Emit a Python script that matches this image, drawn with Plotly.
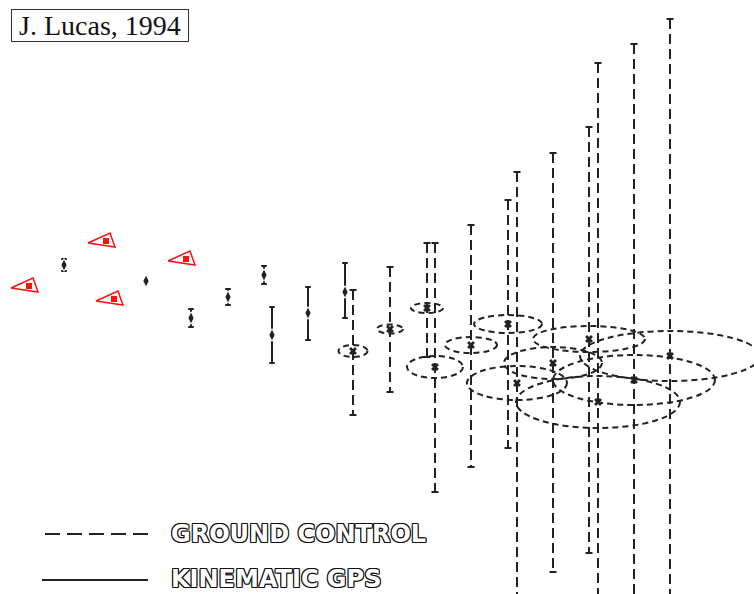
import plotly.graph_objects as go

# ---- data (figure units: horizontal position, vertical position from top) ----
# Kinematic GPS stations: centre and vertical error bar extent
gps_x = [64, 146, 191, 228, 264, 272, 308, 345]
gps_y = [265, 281, 318, 297, 275, 335, 313, 292]
gps_top = [259, 280, 309, 289, 266, 307, 287, 263]
gps_bottom = [271, 282, 327, 305, 284, 363, 340, 318]

# Ground-control stations: centre, vertical error extent and horizontal error ellipse
gc_x = [353, 390, 427, 435, 471, 508, 517, 553, 589, 598, 634, 670]
gc_y = [351, 329, 308, 367, 345, 324, 383, 363, 339, 402, 380, 356]
gc_top = [290, 267, 243, 243, 225, 200, 172, 153, 127, 63, 44, 19]
gc_bottom = [415, 392, 357, 492, 467, 448, 610, 572, 553, 610, 610, 610]
gc_semi_x = [14.5, 13, 16, 28, 26, 34, 50, 49, 56, 82, 81, 90]
gc_semi_y = [6, 4.5, 5, 11, 8, 9, 17, 16, 13, 26, 25, 25]

# Control points (red triangles)
cp_x = [29, 106, 186, 114]
cp_y = [286, 241, 259, 299]

legend_labels = ["GROUND CONTROL", "KINEMATIC GPS"]
credit = "J. Lucas, 1994"

INK = "#222222"
RED = "#ff1010"

fig = go.Figure()

# ground control dashed vertical error bars
lx, ly = [], []
for x, t, b in zip(gc_x, gc_top, gc_bottom):
    lx += [x, x, None]
    ly += [t, b, None]
fig.add_trace(go.Scatter(x=lx, y=ly, mode="lines",
                         line=dict(color=INK, width=2, dash="10px,5px"),
                         hoverinfo="skip", showlegend=False))
# caps
fig.add_trace(go.Scatter(x=gc_x + gc_x, y=gc_top + gc_bottom, mode="markers",
                         marker=dict(symbol="line-ew", size=5,
                                     line=dict(color=INK, width=2)),
                         hoverinfo="skip", showlegend=False))

# error ellipses
for x, y, a, b in zip(gc_x, gc_y, gc_semi_x, gc_semi_y):
    fig.add_shape(type="circle", xref="x", yref="y",
                  x0=x - a, x1=x + a, y0=y - b, y1=y + b,
                  line=dict(color=INK, width=2, dash="6px,4px"))

fig.add_trace(go.Scatter(x=gc_x, y=gc_y, mode="markers",
                         marker=dict(symbol="x", size=7, color=INK),
                         hoverinfo="skip", showlegend=False))

# kinematic GPS solid error bars
sx, sy = [], []
for x, t, b in zip(gps_x, gps_top, gps_bottom):
    sx += [x, x, None]
    sy += [t, b, None]
fig.add_trace(go.Scatter(x=sx, y=sy, mode="lines",
                         line=dict(color=INK, width=2),
                         hoverinfo="skip", showlegend=False))
fig.add_trace(go.Scatter(x=gps_x + gps_x, y=gps_top + gps_bottom, mode="markers",
                         marker=dict(symbol="line-ew", size=4,
                                     line=dict(color=INK, width=2)),
                         hoverinfo="skip", showlegend=False))
fig.add_trace(go.Scatter(x=gps_x, y=gps_y, mode="markers",
                         marker=dict(symbol="diamond-tall", size=9, color=INK,
                                     line=dict(color="white", width=1)),
                         hoverinfo="skip", showlegend=False))

# red control-point triangles (shape offsets are style)
tri_dx = [-18, 4, 9, -18]
tri_dy = [2, -8, 6, 2]
tx, ty = [], []
for x, y in zip(cp_x, cp_y):
    tx += [x + d for d in tri_dx] + [None]
    ty += [y + d for d in tri_dy] + [None]
fig.add_trace(go.Scatter(x=tx, y=ty, mode="lines",
                         line=dict(color=RED, width=1.5),
                         hoverinfo="skip", showlegend=False))
fig.add_trace(go.Scatter(x=cp_x, y=cp_y, mode="markers",
                         marker=dict(symbol="square", size=6, color=RED),
                         hoverinfo="skip", showlegend=False))

# legend (drawn manually)
fig.add_shape(type="line", xref="paper", yref="paper",
              x0=45 / 754, x1=150 / 754, y0=1 - 534 / 594, y1=1 - 534 / 594,
              line=dict(color=INK, width=2, dash="15px,7px"))
fig.add_shape(type="line", xref="paper", yref="paper",
              x0=42 / 754, x1=148 / 754, y0=1 - 580 / 594, y1=1 - 580 / 594,
              line=dict(color=INK, width=2))
outline = ("1px 0 0 #111, -1px 0 0 #111, 0 1px 0 #111, 0 -1px 0 #111, "
           "1px 1px 0 #111, -1px -1px 0 #111, 1px -1px 0 #111, -1px 1px 0 #111")
for lab, yy in zip(legend_labels, [534, 579]):
    fig.add_annotation(xref="paper", yref="paper", x=169 / 754, y=1 - yy / 594,
                       xanchor="left", yanchor="middle", showarrow=False,
                       text=lab,
                       font=dict(family="DejaVu Sans", size=24, color="white",
                                 weight="bold", shadow=outline))

# credit box
fig.add_annotation(xref="paper", yref="paper", x=11 / 754, y=1 - 9 / 594,
                   xanchor="left", yanchor="top", showarrow=False,
                   text=credit, width=176, height=31, align="center",
                   font=dict(family="Liberation Serif", size=28, color="#111111"),
                   bordercolor="#333333", borderwidth=1, borderpad=0,
                   bgcolor="white")

fig.update_xaxes(range=[0, 754], visible=False)
fig.update_yaxes(range=[594, 0], visible=False)
fig.update_layout(width=754, height=594, margin=dict(l=0, r=0, t=0, b=0),
                  plot_bgcolor="white", paper_bgcolor="white")

fig.write_html("out.html",
               config={"displayModeBar": False},
               post_script="document.body.style.margin='0';"
                           "document.body.style.overflow='hidden';")
